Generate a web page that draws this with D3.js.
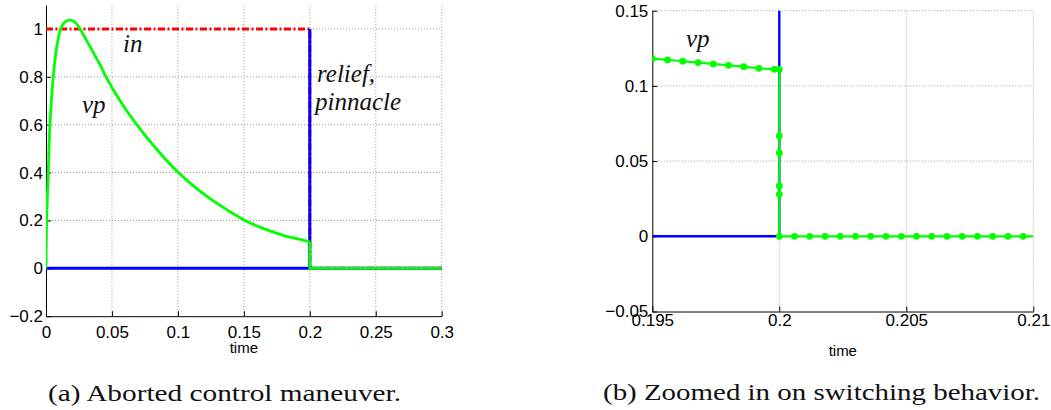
<!DOCTYPE html>
<html>
<head>
<meta charset="utf-8">
<script src="https://cdn.jsdelivr.net/npm/d3@7"></script>
<style>
  body { margin: 0; background: #fff; }
  svg { display: block; }
  .tick text { font-family: "Liberation Sans", Arial, sans-serif; font-size: 17px; fill: #000; }
  .axis path, .axis line { stroke: #000; stroke-width: 1; }
  .grid line { stroke: #9a9a9a; stroke-width: 1; stroke-dasharray: 1,2; }
  .note { font-family: "Liberation Serif", "Times New Roman", serif; font-style: italic; font-size: 25px; fill: #111; }
  .caption { font-family: "Liberation Serif", "Times New Roman", serif; font-size: 23px; fill: #111; }
  .xlabel { font-family: "Liberation Sans", Arial, sans-serif; font-size: 15px; fill: #000; }
</style>
</head>
<body>
<svg id="chart" width="1051" height="410"></svg>
<script>
// ---- panel (a): aborted control maneuver ----
var vpTimeA  = [0, 0.0005, 0.0017, 0.003, 0.0055, 0.008, 0.0111, 0.0145, 0.0187, 0.022, 0.0258,
                0.033, 0.041, 0.0455, 0.0561, 0.0688, 0.085, 0.1003, 0.115, 0.13, 0.1509,
                0.165, 0.18, 0.19, 0.2];
var vpValueA = [0, 0.2, 0.4, 0.6, 0.8, 0.92, 1.0, 1.03, 1.037, 1.028, 1.0,
                0.93, 0.85, 0.8, 0.70, 0.60, 0.49, 0.40, 0.33, 0.27, 0.20,
                0.166, 0.138, 0.124, 0.111];
var vpTailTimeA  = [0.2, 0.2, 0.3];
var vpTailValueA = [0.111, 0, 0];
var inTime  = [0, 0.2, 0.2, 0.3];
var inValue = [1, 1, 0, 0];
var reliefTimeA  = [0, 0.2, 0.2, 0.2, 0.3];
var reliefValueA = [0, 0, 1, 0, 0];
var xTicksA = [0, 0.05, 0.1, 0.15, 0.2, 0.25, 0.3];
var yTicksA = [-0.2, 0, 0.2, 0.4, 0.6, 0.8, 1];

// ---- panel (b): zoomed in on switching ----
var vpTimeB  = [0.195, 0.1956, 0.1962, 0.1968, 0.1974, 0.198, 0.1986, 0.1992, 0.1998, 0.2,
                0.2, 0.2, 0.2, 0.2, 0.2,
                0.2006, 0.2012, 0.2018, 0.2024, 0.203, 0.2036, 0.2042, 0.2048, 0.2054,
                0.206, 0.2066, 0.2072, 0.2078, 0.2084, 0.209, 0.2096];
var vpValueB = [0.1181, 0.1173, 0.1164, 0.1155, 0.1146, 0.1137, 0.1128, 0.1117, 0.111, 0.111,
                0.0667, 0.0554, 0.0335, 0.0279, 0,
                0, 0, 0, 0, 0, 0, 0, 0, 0,
                0, 0, 0, 0, 0, 0, 0];
var reliefTimeB  = [0.195, 0.2, 0.2];
var reliefValueB = [0, 0, 1];
var xTicksB = [0.195, 0.2, 0.205, 0.21];
var yTicksB = [-0.05, 0, 0.05, 0.1, 0.15];

var svg = d3.select("#chart");
var fmt = function(d) { return d < 0 ? "\u2212" + String(-d) : String(d); };
function zip(a, b) { return a.map(function(v, i) { return [v, b[i]]; }); }

function panel(opt) {
  var x = d3.scaleLinear().domain(opt.xDomain).range(opt.xRange);
  var y = d3.scaleLinear().domain(opt.yDomain).range(opt.yRange);
  var g = svg.append("g");

  // clip to the axes box
  g.append("clipPath").attr("id", opt.id + "-clip")
    .append("rect")
    .attr("x", opt.xRange[0]).attr("y", opt.yRange[1])
    .attr("width", opt.xRange[1] - opt.xRange[0])
    .attr("height", opt.yRange[0] - opt.yRange[1]);

  // dotted grid
  var grid = g.append("g").attr("class", "grid");
  grid.selectAll(".gx").data(opt.xTicks.slice(1)).enter().append("line")
    .attr("x1", d => x(d)).attr("x2", d => x(d))
    .attr("y1", opt.yRange[0]).attr("y2", opt.yRange[1]);
  grid.selectAll(".gy").data(opt.yTicks.slice(1)).enter().append("line")
    .attr("x1", opt.xRange[0]).attr("x2", opt.xRange[1])
    .attr("y1", d => y(d)).attr("y2", d => y(d));

  // axes, ticks pointing inwards
  g.append("g").attr("class", "axis")
    .attr("transform", "translate(0," + opt.yRange[0] + ")")
    .call(d3.axisBottom(x).tickValues(opt.xTicks).tickFormat(fmt)
      .tickSizeInner(-5).tickSizeOuter(0).tickPadding(opt.xPad));
  g.append("g").attr("class", "axis")
    .attr("transform", "translate(" + opt.xRange[0] + ",0)")
    .call(d3.axisLeft(y).tickValues(opt.yTicks).tickFormat(fmt)
      .tickSizeInner(-5).tickSizeOuter(0).tickPadding(opt.yPad));

  var plot = g.append("g").attr("clip-path", "url(#" + opt.id + "-clip)");
  var line = d3.line().x(d => x(d[0])).y(d => y(d[1]));

  g.append("text").attr("class", "xlabel")
    .attr("x", (opt.xRange[0] + opt.xRange[1]) / 2).attr("y", opt.timeY)
    .attr("text-anchor", "middle").text("time");

  return { x: x, y: y, g: g, plot: plot, line: line };
}

// ---------- panel (a) ----------
var a = panel({
  id: "pa", xDomain: [0, 0.3], xRange: [46, 441.7],
  yDomain: [-0.2, 1.1], yRange: [316.2, 5],
  xTicks: xTicksA, yTicks: yTicksA, xPad: 10, yPad: 3, timeY: 353
});

a.plot.append("path").datum(zip(inTime, inValue))
  .attr("d", a.line).attr("fill", "none")
  .attr("stroke", "#ff0000").attr("stroke-width", 3)
  .attr("stroke-dasharray", "7,2.5,2,2.5");
a.plot.append("path").datum(zip(reliefTimeA, reliefValueA))
  .attr("d", a.line).attr("fill", "none")
  .attr("stroke", "#0000ff").attr("stroke-width", 3);
a.plot.append("path").datum(zip(vpTimeA, vpValueA))
  .attr("d", a.line.curve(d3.curveCatmullRom.alpha(0.5))).attr("fill", "none")
  .attr("stroke", "#00ff00").attr("stroke-width", 2.8);
a.line.curve(d3.curveLinear);
a.plot.append("path").datum(zip(vpTailTimeA, vpTailValueA))
  .attr("d", a.line).attr("fill", "none")
  .attr("stroke", "#00ff00").attr("stroke-width", 2.8);

a.g.append("text").attr("class", "note").attr("x", 123).attr("y", 52).text("in");
a.g.append("text").attr("class", "note").attr("x", 82).attr("y", 113).text("vp");
a.g.append("text").attr("class", "note").attr("x", 317).attr("y", 82).text("relief,");
a.g.append("text").attr("class", "note").attr("x", 315).attr("y", 110).text("pinnacle");

svg.append("text").attr("class", "caption").attr("x", 48).attr("y", 401)
  .attr("textLength", 353).attr("lengthAdjust", "spacingAndGlyphs")
  .text("(a) Aborted control maneuver.");

// ---------- panel (b) ----------
var b = panel({
  id: "pb", xDomain: [0.195, 0.21], xRange: [652.3, 1033.3],
  yDomain: [-0.05, 0.15], yRange: [311.5, 10.7],
  xTicks: xTicksB, yTicks: yTicksB, xPad: 2, yPad: 4, timeY: 356
});

b.plot.append("path").datum(zip(reliefTimeB, reliefValueB))
  .attr("d", b.line).attr("fill", "none")
  .attr("stroke", "#0000ff").attr("stroke-width", 2.4);
var ptsB = zip(vpTimeB, vpValueB);
b.plot.append("path").datum(ptsB.concat([[b.x.domain()[1], 0]]))
  .attr("d", b.line).attr("fill", "none")
  .attr("stroke", "#00ff00").attr("stroke-width", 2.2);
b.plot.selectAll(".dot").data(ptsB).enter().append("circle")
  .attr("cx", d => b.x(d[0])).attr("cy", d => b.y(d[1]))
  .attr("r", 3.4).attr("fill", "#00ff00");

b.g.append("text").attr("class", "note").attr("x", 686).attr("y", 47).text("vp");

svg.append("text").attr("class", "caption").attr("x", 603).attr("y", 400)
  .attr("textLength", 437).attr("lengthAdjust", "spacingAndGlyphs")
  .text("(b) Zoomed in on switching behavior.");
</script>
</body>
</html>
